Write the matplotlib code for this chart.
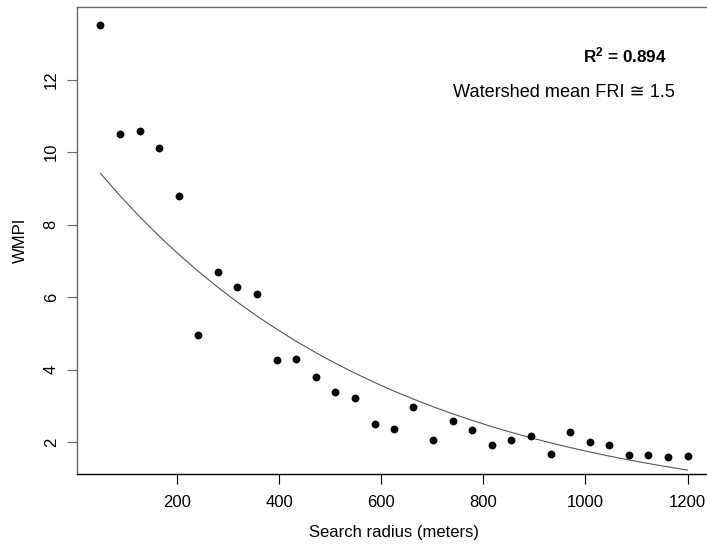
import numpy as np
import matplotlib
matplotlib.use("Agg")
import matplotlib.pyplot as plt

# search radius (m) and WMPI values
radius = [50, 88, 127, 165, 203, 242, 280, 318, 357, 395, 433, 472, 510, 548, 587,
          625, 663, 702, 740, 778, 817, 855, 893, 932, 970, 1008, 1047, 1085, 1123,
          1162, 1200]
wmpi = [13.51, 10.50, 10.58, 10.11, 8.80, 4.96, 6.70, 6.28, 6.10, 4.26, 4.29, 3.79,
        3.40, 3.22, 2.50, 2.37, 2.99, 2.07, 2.60, 2.33, 1.94, 2.07, 2.18, 1.69,
        2.28, 2.01, 1.94, 1.64, 1.66, 1.61, 1.62]

# exponential fit y = a * exp(-b x), as drawn
fit_a = 10.28
fit_b = 0.001763

xticks = [200, 400, 600, 800, 1000, 1200]
yticks = [2, 4, 6, 8, 10, 12]

plt.rcParams['font.family'] = ['Liberation Sans', 'DejaVu Sans']
plt.rcParams['mathtext.default'] = 'regular'

W, H = 707, 546
fig = plt.figure(figsize=(W / 100, H / 100), dpi=100)
# right side of the R box is cropped off in the original
ax = fig.add_axes([77 / W, (H - 474) / H, (711 - 77) / W, (474 - 7) / H])

x = np.array(radius)
ax.plot(x, fit_a * np.exp(-fit_b * x), color='#555555', lw=0.8)
ax.scatter(radius, wmpi, s=32, color='black', zorder=3, linewidths=0)

ax.set_xlim(4, 1246)
ax.set_ylim(1.13, 14.0)
ax.set_xticks(xticks)
ax.set_yticks(yticks)
ax.tick_params(axis='both', direction='out', length=7.2, labelsize=12)
ax.tick_params(axis='x', pad=8, colors='black')
ax.tick_params(axis='y', pad=6, color='#666666')
for lab in ax.get_yticklabels():
    lab.set_rotation(90)
    lab.set_va('center')

ax.spines['right'].set_visible(False)
ax.spines['left'].set_color('#666666')
ax.spines['top'].set_color('#666666')
ax.spines['bottom'].set_color('black')
for s in ax.spines.values():
    s.set_linewidth(1.0)

ax.set_xlabel('Search radius (meters)', fontsize=12)
ax.set_ylabel('WMPI', fontsize=12)
ax.xaxis.set_label_coords((394 - 77) / (711 - 77), -(533 - 474) / (474 - 7))
ax.yaxis.set_label_coords(-(77 - 20) / (711 - 77), 0.5)
ax.xaxis.label.set_va('center')
ax.yaxis.label.set_va('center')

fig.text(667 / W, 1 - 55 / H, 'R$^2$ = 0.894', ha='right', va='center',
         fontsize=12.3, fontweight='bold')
fig.text(675 / W, 1 - 92 / H, 'Watershed mean FRI \u2245 1.5', ha='right',
         va='center', fontsize=13.1)

fig.savefig('out.png', dpi=100)
